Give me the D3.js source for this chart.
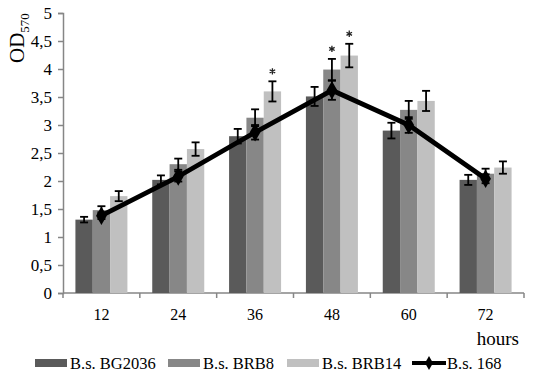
<!DOCTYPE html>
<html>
<head>
<meta charset="utf-8">
<script src="https://cdn.jsdelivr.net/npm/d3@7"></script>
<style>
  body { margin: 0; background: #fff; }
  svg text { font-family: "Liberation Serif", "Times New Roman", serif; fill: #000; }
</style>
</head>
<body>
<div id="chart"></div>
<script>
// data
const hours = ['12', '24', '36', '48', '60', '72'];
const bg2036 = [1.31, 2.02, 2.80, 3.51, 2.90, 2.02];
const bg2036Err = [0.05, 0.08, 0.13, 0.17, 0.14, 0.09];
const brb8 = [1.48, 2.30, 3.13, 3.99, 3.27, 2.13];
const brb8Err = [0.07, 0.10, 0.15, 0.19, 0.16, 0.09];
const brb14 = [1.73, 2.57, 3.60, 4.24, 3.43, 2.24];
const brb14Err = [0.09, 0.12, 0.18, 0.21, 0.18, 0.11];
const bs168 = [1.38, 2.08, 2.87, 3.62, 3.00, 2.04];
const bs168Err = [0.06, 0.09, 0.13, 0.17, 0.14, 0.08];
// significant differences marked with *
const sigBrb8 = [false, false, false, true, false, false];
const sigBrb14 = [false, false, true, true, false, false];
const yTicks = [0, 0.5, 1, 1.5, 2, 2.5, 3, 3.5, 4, 4.5, 5];

const barSeries = [
  { name: 'B.s. BG2036', values: bg2036, err: bg2036Err, sig: null, color: '#5a5a5a' },
  { name: 'B.s. BRB8', values: brb8, err: brb8Err, sig: sigBrb8, color: '#878787' },
  { name: 'B.s. BRB14', values: brb14, err: brb14Err, sig: sigBrb14, color: '#c0c0c0' }
];

const width = 550, height = 378;
const margin = { top: 13, right: 26, bottom: 85, left: 63 };
const innerW = width - margin.left - margin.right;
const innerH = height - margin.top - margin.bottom;

const svg = d3.select('#chart').append('svg')
  .attr('width', width)
  .attr('height', height);

const chart = svg.append('g')
  .attr('transform', `translate(${margin.left},${margin.top})`);

// scales
const x = d3.scaleBand().domain(hours).range([0, innerW]);
const xSub = d3.scaleBand()
  .domain(barSeries.map(d => d.name))
  .range([0, 52]);
const y = d3.scaleLinear().domain([0, 5]).range([innerH, 0]);

const groupOffset = (x.bandwidth() - 52) / 2;

// axes
const yAxis = d3.axisLeft(y).tickValues(yTicks).tickSize(5).tickPadding(6)
  .tickFormat(d => String(d).replace('.', ','));
const yAxisG = chart.append('g').call(yAxis);
yAxisG.select('.domain').attr('stroke', '#868686').attr('stroke-width', 1.5);
yAxisG.selectAll('.tick line').attr('stroke', '#868686').attr('stroke-width', 1.5);
yAxisG.selectAll('.tick text').attr('font-size', 17).attr('font-family', 'Liberation Serif');

const xAxisG = chart.append('g').attr('transform', `translate(0,${innerH})`);
xAxisG.append('line')
  .attr('x1', 0).attr('x2', innerW)
  .attr('stroke', '#868686').attr('stroke-width', 1.5);
xAxisG.selectAll('.xtick')
  .data(d3.range(hours.length + 1))
  .join('line')
    .attr('class', 'xtick')
    .attr('x1', i => i * x.step()).attr('x2', i => i * x.step())
    .attr('y1', 0).attr('y2', 5)
    .attr('stroke', '#868686').attr('stroke-width', 1.5);
xAxisG.selectAll('.xlabel')
  .data(hours)
  .join('text')
    .attr('class', 'xlabel')
    .attr('x', d => x(d) + x.bandwidth() / 2)
    .attr('y', 27)
    .attr('text-anchor', 'middle')
    .attr('font-size', 16)
    .text(d => d);

const star = d3.symbol().type(d3.symbolAsterisk).size(28);

// bars
barSeries.forEach(s => {
  const rows = hours.map((h, i) => ({ h, v: s.values[i], e: s.err[i], sig: s.sig ? s.sig[i] : false }));
  const bx = d => x(d.h) + groupOffset + xSub(s.name);

  chart.append('g').selectAll('rect')
    .data(rows)
    .join('rect')
      .attr('x', bx)
      .attr('y', d => y(d.v))
      .attr('width', xSub.bandwidth())
      .attr('height', d => y(0) - y(d.v))
      .attr('fill', s.color);

  const eg = chart.append('g').attr('class', 'err');
  rows.forEach(d => {
    const cx = bx(d) + xSub.bandwidth() / 2;
    eg.append('line').attr('x1', cx).attr('x2', cx)
      .attr('y1', y(d.v + d.e)).attr('y2', y(d.v - d.e));
    eg.append('line').attr('x1', cx - 4).attr('x2', cx + 4)
      .attr('y1', y(d.v + d.e)).attr('y2', y(d.v + d.e));
    eg.append('line').attr('x1', cx - 4).attr('x2', cx + 4)
      .attr('y1', y(d.v - d.e)).attr('y2', y(d.v - d.e));
    if (d.sig) {
      chart.append('path')
        .attr('transform', `translate(${cx},${y(d.v + d.e) - 10})`)
        .attr('d', star)
        .attr('fill', 'none')
        .attr('stroke', '#222')
        .attr('stroke-width', 1.3);
    }
  });
  eg.selectAll('line').attr('stroke', '#000').attr('stroke-width', 1.8);
});

// line series B.s. 168
const lineX = h => x(h) + x.bandwidth() / 2;
const lineRows = hours.map((h, i) => ({ h, v: bs168[i], e: bs168Err[i] }));

chart.append('path')
  .datum(lineRows)
  .attr('fill', 'none')
  .attr('stroke', '#000')
  .attr('stroke-width', 4.8)
  .attr('stroke-linejoin', 'round')
  .attr('d', d3.line().x(d => lineX(d.h)).y(d => y(d.v)));

const lg = chart.append('g');
lineRows.forEach(d => {
  const cx = lineX(d.h);
  lg.append('line').attr('x1', cx).attr('x2', cx)
    .attr('y1', y(d.v + d.e)).attr('y2', y(d.v - d.e));
  lg.append('line').attr('x1', cx - 4).attr('x2', cx + 4)
    .attr('y1', y(d.v + d.e)).attr('y2', y(d.v + d.e));
  lg.append('line').attr('x1', cx - 4).attr('x2', cx + 4)
    .attr('y1', y(d.v - d.e)).attr('y2', y(d.v - d.e));
});
lg.selectAll('line').attr('stroke', '#000').attr('stroke-width', 1.8);

const diamond = d3.symbol().type(d3.symbolDiamond).size(100);
chart.append('g').selectAll('path')
  .data(lineRows)
  .join('path')
    .attr('transform', d => `translate(${lineX(d.h)},${y(d.v)})`)
    .attr('d', diamond)
    .attr('fill', '#000');

// axis titles
const yTitle = svg.append('text')
  .attr('transform', 'translate(24,63) rotate(-90)')
  .attr('text-anchor', 'start')
  .attr('font-size', 21);
yTitle.append('tspan').text('OD');
yTitle.append('tspan').attr('font-size', 13).attr('dy', 5).text('570');

svg.append('text')
  .attr('x', 519)
  .attr('y', 345)
  .attr('text-anchor', 'end')
  .attr('font-size', 19)
  .text('hours');

// legend
const legendItems = [
  { name: 'B.s. BG2036', color: '#5a5a5a', type: 'bar', x: 35 },
  { name: 'B.s. BRB8', color: '#878787', type: 'bar', x: 168 },
  { name: 'B.s. BRB14', color: '#c0c0c0', type: 'bar', x: 287 },
  { name: 'B.s. 168', color: '#000', type: 'line', x: 412 }
];
const legendDiamond = d3.symbol().type(d3.symbolDiamond).size(55);
const legend = svg.append('g').attr('transform', 'translate(0,363)');
legendItems.forEach(it => {
  const g = legend.append('g').attr('transform', `translate(${it.x},0)`);
  if (it.type === 'bar') {
    g.append('rect').attr('x', 0).attr('y', -4).attr('width', 32).attr('height', 8).attr('fill', it.color);
  } else {
    g.append('line').attr('x1', 0).attr('x2', 34).attr('stroke', '#000').attr('stroke-width', 4);
    g.append('path').attr('transform', 'translate(17,0)')
      .attr('d', legendDiamond).attr('fill', '#000');
  }
  g.append('text').attr('x', 35).attr('y', 5.5).attr('font-size', 16.5).text(it.name);
});
</script>
</body>
</html>
